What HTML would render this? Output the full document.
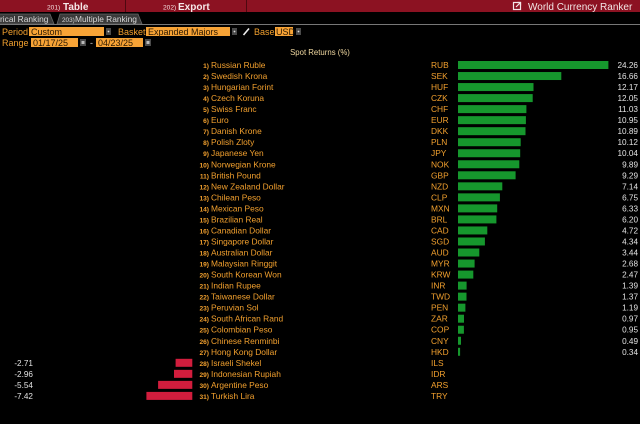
<!DOCTYPE html>
<html><head><meta charset="utf-8"><style>
html,body{margin:0;padding:0;background:#000;}
svg{display:block;}
text{font-family:"Liberation Sans",sans-serif;}
.o{fill:#f2a02e;font-size:8.4px;}
.n{fill:#f2a02e;font-size:6.6px;font-weight:bold;}
.v{fill:#e2e2e2;font-size:8.2px;}
.g{fill:#16972d;}
.r{fill:#d21d3d;}
</style></head><body>
<svg width="640" height="424" viewBox="0 0 640 424" xmlns="http://www.w3.org/2000/svg">
<rect width="640" height="424" fill="#000"/>
<!-- header -->
<rect x="0" y="0" width="640" height="12" fill="#8c1222"/>
<rect x="125" y="0" width="1" height="12" fill="#4e0810"/>
<rect x="246" y="0" width="1" height="12" fill="#4e0810"/>
<text x="47" y="9.5" style="font-size:6.6px;fill:#f3dede;">201)</text>
<text x="63" y="9.8" style="font-size:10px;font-weight:bold;fill:#f6e8e8;">Table</text>
<text x="163" y="9.5" style="font-size:6.6px;fill:#f3dede;">202)</text>
<text x="178" y="9.8" style="font-size:10px;font-weight:bold;fill:#f6e8e8;">Export</text>
<g fill="none" stroke="#f3e6e6" stroke-width="1.2">
<rect x="513.5" y="2.5" width="7" height="7"/>
<path d="M516 7 L520.5 2.5 M517.5 2.5 L520.5 2.5 L520.5 5.5"/>
</g>
<text x="528" y="9.8" style="font-size:10px;fill:#f3e6e6;">World Currency Ranker</text>
<!-- tabs -->
<path d="M-5 24 L-5 14 L50 14 L54 24 Z" fill="#3a3a3a" stroke="#666" stroke-width="0.8"/>
<path d="M57 24 L60 14 L138 14 L142 24 Z" fill="#3a3a3a" stroke="#666" stroke-width="0.8"/>
<text x="0" y="22" style="font-size:8.4px;fill:#d8d8d8;">rical Ranking</text>
<text x="62" y="22" style="font-size:6.4px;fill:#d8d8d8;">203)</text>
<text x="75" y="22" style="font-size:8.4px;fill:#d8d8d8;">Multiple Ranking</text>
<rect x="0" y="24" width="640" height="1" fill="#777"/>
<!-- controls -->
<text x="2" y="35" class="o" style="font-size:9px;">Period</text>
<rect x="29" y="27" width="75" height="9" fill="#f7a336"/>
<text x="31" y="35" style="font-size:9px;fill:#2a1800;">Custom</text>
<rect x="106" y="28" width="5" height="7" fill="#4a4a4a"/>
<circle cx="108.5" cy="31.5" r="0.9" fill="#ddd"/>
<text x="118" y="35" class="o" style="font-size:9px;">Basket</text>
<rect x="146" y="27" width="84" height="9" fill="#f7a336"/>
<text x="148" y="35" style="font-size:9px;fill:#2a1800;">Expanded Majors</text>
<rect x="232" y="28" width="5" height="7" fill="#4a4a4a"/>
<circle cx="234.5" cy="31.5" r="0.9" fill="#ddd"/>
<path d="M243.5 35 L249 28.5" stroke="#eee" stroke-width="1.6"/>
<text x="254" y="35" class="o" style="font-size:9px;">Base</text>
<rect x="275" y="27" width="18" height="9" fill="#f7a336"/>
<text x="276" y="35" style="font-size:9px;fill:#2a1800;">USD</text>
<rect x="296" y="28" width="5" height="7" fill="#4a4a4a"/>
<circle cx="298.5" cy="31.5" r="0.9" fill="#ddd"/>
<text x="2" y="46" class="o" style="font-size:9px;">Range</text>
<rect x="31" y="38" width="47" height="9" fill="#f7a336"/>
<text x="33" y="46" style="font-size:9px;fill:#2a1800;">01/17/25</text>
<rect x="80" y="39" width="6" height="7" fill="#4a4a4a"/>
<rect x="81.5" y="41" width="3" height="3" fill="#bbb"/>
<text x="90" y="46" style="font-size:9px;fill:#ccc;">-</text>
<rect x="96" y="38" width="47" height="9" fill="#f7a336"/>
<text x="98" y="46" style="font-size:9px;fill:#2a1800;">04/23/25</text>
<rect x="145" y="39" width="6" height="7" fill="#4a4a4a"/>
<rect x="146.5" y="41" width="3" height="3" fill="#bbb"/>
<text x="320" y="55" text-anchor="middle" style="font-size:7.8px;fill:#f0d8a0;">Spot Returns (%)</text>

<!-- rows -->
<g transform="translate(0,65)"><text x="209" y="3" class="n" text-anchor="end">1)</text><text x="211" y="3" class="o">Russian Ruble</text><text x="431" y="3" class="o">RUB</text><rect x="458" y="-4" width="150.4" height="8" class="g"/><text x="638" y="3" class="v" text-anchor="end">24.26</text></g>
<g transform="translate(0,76.03)"><text x="209" y="3" class="n" text-anchor="end">2)</text><text x="211" y="3" class="o">Swedish Krona</text><text x="431" y="3" class="o">SEK</text><rect x="458" y="-4" width="103.3" height="8" class="g"/><text x="638" y="3" class="v" text-anchor="end">16.66</text></g>
<g transform="translate(0,87.06)"><text x="209" y="3" class="n" text-anchor="end">3)</text><text x="211" y="3" class="o">Hungarian Forint</text><text x="431" y="3" class="o">HUF</text><rect x="458" y="-4" width="75.5" height="8" class="g"/><text x="638" y="3" class="v" text-anchor="end">12.17</text></g>
<g transform="translate(0,98.09)"><text x="209" y="3" class="n" text-anchor="end">4)</text><text x="211" y="3" class="o">Czech Koruna</text><text x="431" y="3" class="o">CZK</text><rect x="458" y="-4" width="74.7" height="8" class="g"/><text x="638" y="3" class="v" text-anchor="end">12.05</text></g>
<g transform="translate(0,109.12)"><text x="209" y="3" class="n" text-anchor="end">5)</text><text x="211" y="3" class="o">Swiss Franc</text><text x="431" y="3" class="o">CHF</text><rect x="458" y="-4" width="68.4" height="8" class="g"/><text x="638" y="3" class="v" text-anchor="end">11.03</text></g>
<g transform="translate(0,120.15)"><text x="209" y="3" class="n" text-anchor="end">6)</text><text x="211" y="3" class="o">Euro</text><text x="431" y="3" class="o">EUR</text><rect x="458" y="-4" width="67.9" height="8" class="g"/><text x="638" y="3" class="v" text-anchor="end">10.95</text></g>
<g transform="translate(0,131.18)"><text x="209" y="3" class="n" text-anchor="end">7)</text><text x="211" y="3" class="o">Danish Krone</text><text x="431" y="3" class="o">DKK</text><rect x="458" y="-4" width="67.5" height="8" class="g"/><text x="638" y="3" class="v" text-anchor="end">10.89</text></g>
<g transform="translate(0,142.21)"><text x="209" y="3" class="n" text-anchor="end">8)</text><text x="211" y="3" class="o">Polish Zloty</text><text x="431" y="3" class="o">PLN</text><rect x="458" y="-4" width="62.7" height="8" class="g"/><text x="638" y="3" class="v" text-anchor="end">10.12</text></g>
<g transform="translate(0,153.24)"><text x="209" y="3" class="n" text-anchor="end">9)</text><text x="211" y="3" class="o">Japanese Yen</text><text x="431" y="3" class="o">JPY</text><rect x="458" y="-4" width="62.2" height="8" class="g"/><text x="638" y="3" class="v" text-anchor="end">10.04</text></g>
<g transform="translate(0,164.27)"><text x="209" y="3" class="n" text-anchor="end">10)</text><text x="211" y="3" class="o">Norwegian Krone</text><text x="431" y="3" class="o">NOK</text><rect x="458" y="-4" width="61.3" height="8" class="g"/><text x="638" y="3" class="v" text-anchor="end">9.89</text></g>
<g transform="translate(0,175.3)"><text x="209" y="3" class="n" text-anchor="end">11)</text><text x="211" y="3" class="o">British Pound</text><text x="431" y="3" class="o">GBP</text><rect x="458" y="-4" width="57.6" height="8" class="g"/><text x="638" y="3" class="v" text-anchor="end">9.29</text></g>
<g transform="translate(0,186.33)"><text x="209" y="3" class="n" text-anchor="end">12)</text><text x="211" y="3" class="o">New Zealand Dollar</text><text x="431" y="3" class="o">NZD</text><rect x="458" y="-4" width="44.3" height="8" class="g"/><text x="638" y="3" class="v" text-anchor="end">7.14</text></g>
<g transform="translate(0,197.36)"><text x="209" y="3" class="n" text-anchor="end">13)</text><text x="211" y="3" class="o">Chilean Peso</text><text x="431" y="3" class="o">CLP</text><rect x="458" y="-4" width="41.9" height="8" class="g"/><text x="638" y="3" class="v" text-anchor="end">6.75</text></g>
<g transform="translate(0,208.39)"><text x="209" y="3" class="n" text-anchor="end">14)</text><text x="211" y="3" class="o">Mexican Peso</text><text x="431" y="3" class="o">MXN</text><rect x="458" y="-4" width="39.2" height="8" class="g"/><text x="638" y="3" class="v" text-anchor="end">6.33</text></g>
<g transform="translate(0,219.42)"><text x="209" y="3" class="n" text-anchor="end">15)</text><text x="211" y="3" class="o">Brazilian Real</text><text x="431" y="3" class="o">BRL</text><rect x="458" y="-4" width="38.4" height="8" class="g"/><text x="638" y="3" class="v" text-anchor="end">6.20</text></g>
<g transform="translate(0,230.45)"><text x="209" y="3" class="n" text-anchor="end">16)</text><text x="211" y="3" class="o">Canadian Dollar</text><text x="431" y="3" class="o">CAD</text><rect x="458" y="-4" width="29.3" height="8" class="g"/><text x="638" y="3" class="v" text-anchor="end">4.72</text></g>
<g transform="translate(0,241.48)"><text x="209" y="3" class="n" text-anchor="end">17)</text><text x="211" y="3" class="o">Singapore Dollar</text><text x="431" y="3" class="o">SGD</text><rect x="458" y="-4" width="26.9" height="8" class="g"/><text x="638" y="3" class="v" text-anchor="end">4.34</text></g>
<g transform="translate(0,252.51)"><text x="209" y="3" class="n" text-anchor="end">18)</text><text x="211" y="3" class="o">Australian Dollar</text><text x="431" y="3" class="o">AUD</text><rect x="458" y="-4" width="21.3" height="8" class="g"/><text x="638" y="3" class="v" text-anchor="end">3.44</text></g>
<g transform="translate(0,263.54)"><text x="209" y="3" class="n" text-anchor="end">19)</text><text x="211" y="3" class="o">Malaysian Ringgit</text><text x="431" y="3" class="o">MYR</text><rect x="458" y="-4" width="16.6" height="8" class="g"/><text x="638" y="3" class="v" text-anchor="end">2.68</text></g>
<g transform="translate(0,274.57)"><text x="209" y="3" class="n" text-anchor="end">20)</text><text x="211" y="3" class="o">South Korean Won</text><text x="431" y="3" class="o">KRW</text><rect x="458" y="-4" width="15.3" height="8" class="g"/><text x="638" y="3" class="v" text-anchor="end">2.47</text></g>
<g transform="translate(0,285.6)"><text x="209" y="3" class="n" text-anchor="end">21)</text><text x="211" y="3" class="o">Indian Rupee</text><text x="431" y="3" class="o">INR</text><rect x="458" y="-4" width="8.6" height="8" class="g"/><text x="638" y="3" class="v" text-anchor="end">1.39</text></g>
<g transform="translate(0,296.63)"><text x="209" y="3" class="n" text-anchor="end">22)</text><text x="211" y="3" class="o">Taiwanese Dollar</text><text x="431" y="3" class="o">TWD</text><rect x="458" y="-4" width="8.5" height="8" class="g"/><text x="638" y="3" class="v" text-anchor="end">1.37</text></g>
<g transform="translate(0,307.66)"><text x="209" y="3" class="n" text-anchor="end">23)</text><text x="211" y="3" class="o">Peruvian Sol</text><text x="431" y="3" class="o">PEN</text><rect x="458" y="-4" width="7.4" height="8" class="g"/><text x="638" y="3" class="v" text-anchor="end">1.19</text></g>
<g transform="translate(0,318.69)"><text x="209" y="3" class="n" text-anchor="end">24)</text><text x="211" y="3" class="o">South African Rand</text><text x="431" y="3" class="o">ZAR</text><rect x="458" y="-4" width="6.0" height="8" class="g"/><text x="638" y="3" class="v" text-anchor="end">0.97</text></g>
<g transform="translate(0,329.72)"><text x="209" y="3" class="n" text-anchor="end">25)</text><text x="211" y="3" class="o">Colombian Peso</text><text x="431" y="3" class="o">COP</text><rect x="458" y="-4" width="5.9" height="8" class="g"/><text x="638" y="3" class="v" text-anchor="end">0.95</text></g>
<g transform="translate(0,340.75)"><text x="209" y="3" class="n" text-anchor="end">26)</text><text x="211" y="3" class="o">Chinese Renminbi</text><text x="431" y="3" class="o">CNY</text><rect x="458" y="-4" width="3.0" height="8" class="g"/><text x="638" y="3" class="v" text-anchor="end">0.49</text></g>
<g transform="translate(0,351.78)"><text x="209" y="3" class="n" text-anchor="end">27)</text><text x="211" y="3" class="o">Hong Kong Dollar</text><text x="431" y="3" class="o">HKD</text><rect x="458" y="-4" width="2.1" height="8" class="g"/><text x="638" y="3" class="v" text-anchor="end">0.34</text></g>
<g transform="translate(0,362.81)"><text x="209" y="3" class="n" text-anchor="end">28)</text><text x="211" y="3" class="o">Israeli Shekel</text><text x="431" y="3" class="o">ILS</text><rect x="175.6" y="-4" width="16.7" height="8" class="r"/><text x="33" y="3" class="v" text-anchor="end">-2.71</text></g>
<g transform="translate(0,373.84)"><text x="209" y="3" class="n" text-anchor="end">29)</text><text x="211" y="3" class="o">Indonesian Rupiah</text><text x="431" y="3" class="o">IDR</text><rect x="174.0" y="-4" width="18.3" height="8" class="r"/><text x="33" y="3" class="v" text-anchor="end">-2.96</text></g>
<g transform="translate(0,384.87)"><text x="209" y="3" class="n" text-anchor="end">30)</text><text x="211" y="3" class="o">Argentine Peso</text><text x="431" y="3" class="o">ARS</text><rect x="158.1" y="-4" width="34.2" height="8" class="r"/><text x="33" y="3" class="v" text-anchor="end">-5.54</text></g>
<g transform="translate(0,395.9)"><text x="209" y="3" class="n" text-anchor="end">31)</text><text x="211" y="3" class="o">Turkish Lira</text><text x="431" y="3" class="o">TRY</text><rect x="146.4" y="-4" width="45.9" height="8" class="r"/><text x="33" y="3" class="v" text-anchor="end">-7.42</text></g>
</svg>
</body></html>
